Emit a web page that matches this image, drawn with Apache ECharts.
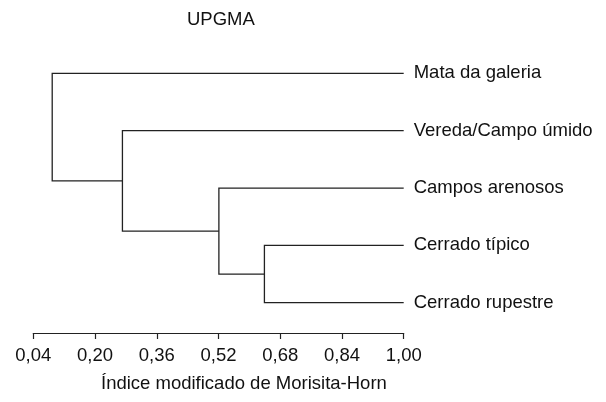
<!DOCTYPE html>
<html>
<head>
<meta charset="utf-8">
<script src="https://cdn.jsdelivr.net/npm/echarts@6/dist/echarts.min.js"></script>
<style>
  html, body { margin: 0; padding: 0; background: #fff; }
  #chart { width: 606px; height: 402px; }
</style>
</head>
<body>
<div id="chart"></div>
<script>
// leaves, top to bottom
const leaves = ['Mata da galeria', 'Vereda/Campo úmido', 'Campos arenosos', 'Cerrado típico', 'Cerrado rupestre']
// R-style merge table: negative = leaf number, positive = earlier merge step
const merges = [[-4, -5], [-3, 1], [-2, 2], [-1, 3]]
// similarity (Morisita-Horn) at each merge step
const heights = [0.639, 0.521, 0.271, 0.089]
const tickLabels = ['0,04', '0,20', '0,36', '0,52', '0,68', '0,84', '1,00']

const leafX = 1.0
const lineColor = '#222'
const textColor = '#111'
const font = "'Liberation Sans', Arial, sans-serif"
const fontSize = 18.5

// node positions in data space: [x, y]
function nodePos(ref, nodes) {
  return ref < 0 ? [leafX, -ref - 1] : nodes[ref - 1]
}
const nodes = []
const links = []
merges.forEach(function(m, i) {
  const a = nodePos(m[0], nodes)
  const b = nodePos(m[1], nodes)
  const h = heights[i]
  nodes.push([h, (a[1] + b[1]) / 2])
  links.push([h, a[0], a[1], b[0], b[1]])
})

const chart = echarts.init(document.getElementById('chart'))

chart.setOption({
  animation: false,
  title: {
    text: 'UPGMA',
    left: 182,
    top: 5,
    textStyle: { fontFamily: font, fontSize: fontSize, fontWeight: 'normal', color: textColor }
  },
  graphic: [{
    type: 'text',
    left: 101,
    top: 374,
    style: { text: 'Índice modificado de Morisita-Horn', font: fontSize + 'px ' + font, fill: textColor }
  }],
  grid: { left: 33.3, right: 202.3, top: 16, bottom: 69 },
  xAxis: {
    type: 'value',
    min: 0.04,
    max: 1.0,
    interval: 0.16,
    axisLine: { show: true, onZero: false, lineStyle: { color: lineColor, width: 1.2 } },
    axisTick: { show: true, length: 6, lineStyle: { color: lineColor, width: 1.2 } },
    splitLine: { show: false },
    axisLabel: {
      margin: 13,
      fontFamily: font,
      fontSize: fontSize,
      color: textColor,
      formatter: function(v) {
        return tickLabels[Math.round((v - 0.04) / 0.16)]
      }
    }
  },
  yAxis: {
    type: 'value',
    inverse: true,
    min: -1,
    max: 4.528,
    show: false
  },
  series: [{
    type: 'custom',
    clip: false,
    data: links,
    renderItem: function(params, api) {
      const h = api.value(0)
      const p1 = api.coord([api.value(1), api.value(2)])
      const p2 = api.coord([h, api.value(2)])
      const p3 = api.coord([h, api.value(4)])
      const p4 = api.coord([api.value(3), api.value(4)])
      return {
        type: 'polyline',
        shape: { points: [p1, p2, p3, p4] },
        style: { stroke: lineColor, lineWidth: 1.3, fill: null }
      }
    }
  }, {
    type: 'scatter',
    symbolSize: 0,
    itemStyle: { opacity: 1 },
    data: leaves.map(function(name, i) { return [leafX, i, name] }),
    label: {
      show: true,
      position: 'right',
      distance: 10,
      fontFamily: font,
      fontSize: fontSize,
      color: textColor,
      opacity: 1,
      formatter: function(p) { return p.value[2] }
    },
    emphasis: { disabled: true }
  }]
})
</script>
</body>
</html>
